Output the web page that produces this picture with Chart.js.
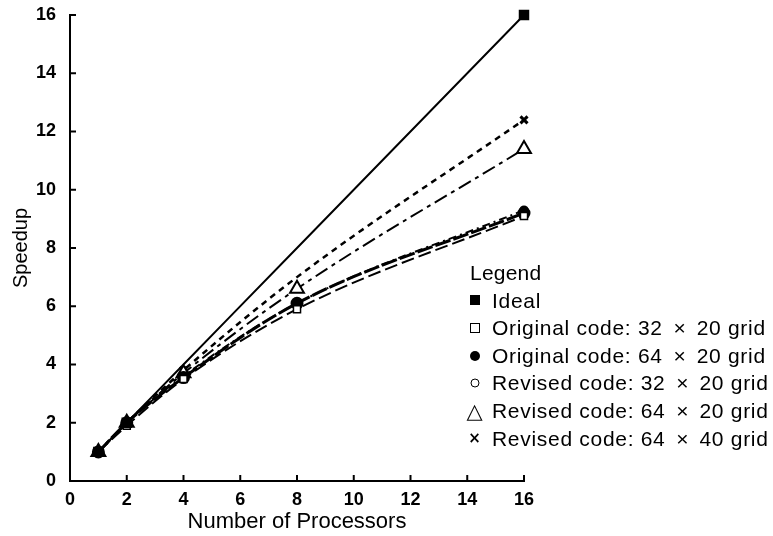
<!DOCTYPE html>
<html>
<head>
<meta charset="utf-8">
<script src="https://cdn.jsdelivr.net/npm/chart.js@4.4.1/dist/chart.umd.min.js"></script>
<style>
  html, body { margin: 0; padding: 0; background: #fff; }
  #wrap { position: relative; width: 773px; height: 536px; }
  #chart { position: absolute; left: 0; top: 0; }
  #legend {
    position: absolute; left: 470px; top: 259px;
    font-family: "Liberation Sans", Arial, sans-serif; font-size: 21px; color: #000;
    line-height: 27.6px; white-space: nowrap;
  }
  #legend .row { position: relative; padding-left: 22px; height: 27.6px; letter-spacing: 0.7px; }
  #legend .title { padding-left: 0; letter-spacing: 0.2px; }
  #legend .mk { position: absolute; left: 5px; top: 50%; transform: translate(-50%, -50%); }
  #legend .x { display: inline-block; width: 34px; text-align: center; letter-spacing: 0; }
  .fsq { width: 10px; height: 10px; background: #000; }
  .osq { width: 10px; height: 10px; border: 1.5px solid #000; box-sizing: border-box; }
  .fci { width: 10px; height: 10px; border-radius: 50%; background: #000; }
  .oci { width: 9px; height: 9px; border-radius: 50%; border: 1.5px solid #000; box-sizing: border-box; }
  .tri { font-family: "DejaVu Sans", sans-serif; font-size: 21px; line-height: 21px; }
  .crs { font-family: "DejaVu Sans", sans-serif; font-size: 15px; font-weight: bold; line-height: 15px; }
</style>
</head>
<body>
<div id="wrap">
  <canvas id="chart" width="773" height="536"></canvas>
  <div id="legend">
    <div class="row title">Legend</div>
    <div class="row"><span class="mk fsq"></span>Ideal</div>
    <div class="row"><span class="mk osq"></span>Original code: 32<span class="x">×</span>20 grid</div>
    <div class="row"><span class="mk fci"></span>Original code: 64<span class="x">×</span>20 grid</div>
    <div class="row"><span class="mk oci"></span>Revised code: 32<span class="x">×</span>20 grid</div>
    <div class="row"><span class="mk tri">△</span>Revised code: 64<span class="x">×</span>20 grid</div>
    <div class="row"><span class="mk crs">×</span>Revised code: 64<span class="x">×</span>40 grid</div>
  </div>
</div>
<script>
// Processor counts and measured speedups
const processors = [1, 2, 4, 8, 16];
const ideal      = [1, 2, 4, 8, 16];
const orig32x20  = [1, 1.9, 3.5, 5.9, 9.1];
const orig64x20  = [1, 2, 3.55, 6.1, 9.2];
const rev32x20   = [1, 2, 3.6, 6.1, 9.3];
const rev64x20   = [1, 2, 3.7, 6.6, 11.4];
const rev64x40   = [1, 2, 3.8, 7.0, 12.4];

const xTicks = [0, 2, 4, 6, 8, 10, 12, 14, 16];
const yTicks = [0, 2, 4, 6, 8, 10, 12, 14, 16];

const pts = ys => processors.map((p, i) => ({ x: p, y: ys[i] }));
const FONT = '"Liberation Sans", Arial, sans-serif';

function series(label, ys, style) {
  return Object.assign({
    label,
    data: pts(ys),
    borderColor: '#000',
    backgroundColor: '#000',
    pointBorderColor: '#000',
    borderWidth: 2,
    cubicInterpolationMode: 'monotone',
    clip: false,
    fill: false
  }, style);
}

// Short tick marks drawn on the inner side of both axes
const innerTicks = {
  id: 'innerTicks',
  afterDraw(chart) {
    const { ctx, chartArea, scales } = chart;
    ctx.save();
    ctx.strokeStyle = '#000';
    ctx.lineWidth = 2;
    scales.x.ticks.forEach(t => {
      const px = scales.x.getPixelForValue(t.value);
      ctx.beginPath();
      ctx.moveTo(px, chartArea.bottom);
      ctx.lineTo(px, chartArea.bottom - 6);
      ctx.stroke();
    });
    scales.y.ticks.forEach(t => {
      const py = scales.y.getPixelForValue(t.value);
      ctx.beginPath();
      ctx.moveTo(chartArea.left, py);
      ctx.lineTo(chartArea.left + 6, py);
      ctx.stroke();
    });
    ctx.restore();
  }
};

new Chart(document.getElementById('chart'), {
  type: 'line',
  data: {
    datasets: [
      series('Ideal', ideal, { borderWidth: 2, pointStyle: 'rect', pointRadius: [6, 6, 0, 0, 6], pointBackgroundColor: '#000' }),
      series('Original code: 32 × 20 grid', orig32x20, { borderDash: [13, 5], pointStyle: 'rect', pointRadius: 5, pointBackgroundColor: '#fff', pointBorderWidth: 1.5 }),
      series('Original code: 64 × 20 grid', orig64x20, { borderWidth: 3, borderDash: [16, 3], pointStyle: 'circle', pointRadius: 5, pointBackgroundColor: '#000' }),
      series('Revised code: 32 × 20 grid', rev32x20, { borderDash: [8, 4, 2, 4], pointStyle: 'circle', pointRadius: 4, pointBackgroundColor: '#fff', pointBorderWidth: 1.5 }),
      series('Revised code: 64 × 20 grid', rev64x20, { borderDash: [14, 5, 4, 5], pointStyle: 'triangle', pointRadius: 8, pointBackgroundColor: '#fff', pointBorderWidth: 2 }),
      series('Revised code: 64 × 40 grid', rev64x40, { borderWidth: 2.5, borderDash: [6, 5], pointStyle: 'crossRot', pointRadius: [5, 5, 5, 0, 5], pointBorderWidth: 3 })
    ]
  },
  options: {
    responsive: false,
    animation: false,
    layout: { padding: { top: 15, right: 249, left: 0, bottom: 0 } },
    plugins: { legend: { display: false }, tooltip: { enabled: false } },
    scales: {
      x: {
        type: 'linear', min: 0, max: 16,
        afterBuildTicks: s => { s.ticks = xTicks.map(v => ({ value: v })); },
        afterFit: s => { s.height = 55; s.paddingLeft = 0; s.paddingRight = 0; },
        grid: { display: true, drawOnChartArea: false, drawTicks: false },
        border: { display: true, color: '#000', width: 2 },
        ticks: { color: '#000', padding: 8, font: { family: FONT, size: 18, weight: 'bold' }, maxRotation: 0 },
        title: { display: true, text: 'Number of Processors', color: '#000', padding: { top: 0, bottom: 1 }, font: { family: FONT, size: 22 } }
      },
      y: {
        type: 'linear', min: 0, max: 16,
        afterBuildTicks: s => { s.ticks = yTicks.map(v => ({ value: v })); },
        afterFit: s => { s.width = 70; s.paddingTop = 0; s.paddingBottom = 0; },
        grid: { display: true, drawOnChartArea: false, drawTicks: false },
        border: { display: true, color: '#000', width: 2 },
        ticks: { color: '#000', padding: 14, font: { family: FONT, size: 18, weight: 'bold' } },
        title: { display: true, text: 'Speedup', color: '#000', padding: { top: 9, bottom: 0 }, font: { family: FONT, size: 20 } }
      }
    }
  },
  plugins: [innerTicks]
});
</script>
</body>
</html>
